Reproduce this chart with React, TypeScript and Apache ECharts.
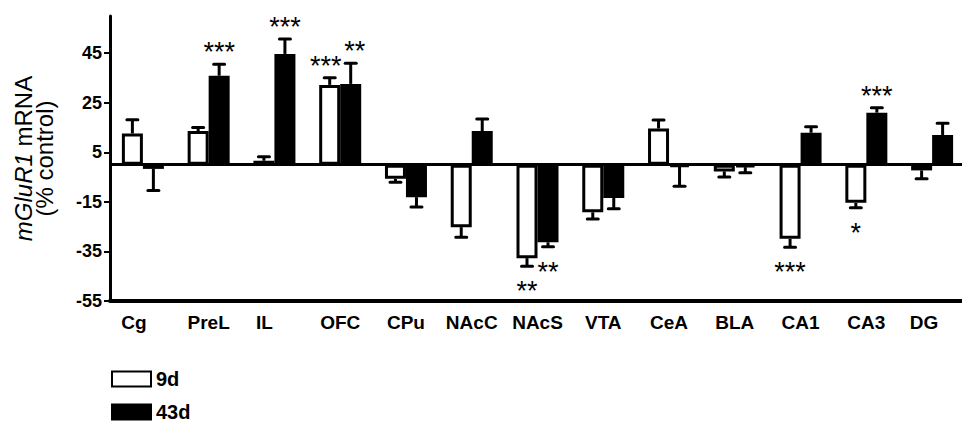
import React, { useEffect, useRef } from "react";
import * as echarts from "echarts";

const categories = ["Cg", "PreL", "IL", "OFC", "CPu", "NAcC", "NAcS", "VTA", "CeA", "BLA", "CA1", "CA3", "DG"];
const seriesNames = ["9d", "43d"];
const values9d = [12.6, 13.6, 1.6, 32.2, -5.7, -25.2, -37.7, -19.2, 14.6, -2.7, -29.9, -15.4, -2.3];
const err9d = [5.5, 1.4, 1.6, 2.9, 1.4, 4.1, 3.3, 2.7, 3.4, 2.3, 3.4, 2.0, 3.4];
const values43d = [-1.7, 35.9, 44.7, 32.6, -13.1, 13.6, -31.3, -13.4, -0.9, -1.0, 12.9, 21.0, 12.0];
const err43d = [8.7, 4.6, 6.0, 8.3, 4.0, 4.8, 1.8, 4.4, 7.8, 2.3, 2.4, 2.0, 4.7];
const stars9d = ["", "", "", "***", "", "", "**", "", "", "", "***", "*", ""];
const stars43d = ["", "***", "***", "**", "", "", "**", "", "", "", "", "***", ""];
const yTicks = [-55, -35, -15, 5, 25, 45];
const yMin = -55;
const yMax = 60;

// label horizontal shift (px, negative = left) per category
const labelShift: Record<string, number> = { Cg: -9, IL: -10, DG: -8 };
// star horizontal nudge (px) per category index
const starNudge: Record<number, number> = { 3: 4 };

const FONT = "Arial, 'Liberation Sans', sans-serif";
const BAR_W = 21;

function errSeries(vals: number[], errs: number[], stars: string[], offset: number, nudgeSign: number) {
  return {
    type: "custom",
    silent: true,
    clip: false,
    z: 5,
    encode: { x: 0, y: 1 },
    data: vals.map((v, i) => [i, v, errs[i]]),
    renderItem: (params: any, api: any) => {
      const idx = api.value(0);
      const v = api.value(1);
      const e = api.value(2);
      const star = stars[idx];
      const sign = v >= 0 ? 1 : -1;
      const base = api.coord([idx, v]);
      const tip = api.coord([idx, v + sign * e]);
      const x = base[0] + offset;
      const children: any[] = [
        {
          type: "line",
          shape: { x1: x, y1: base[1], x2: x, y2: tip[1] },
          style: { stroke: "#000", lineWidth: 3 },
        },
        {
          type: "rect",
          shape: { x: x - 7, y: tip[1] - 1.5, width: 14, height: 3, r: 1.5 },
          style: { fill: "#000" },
        },
      ];
      if (star) {
        children.push({
          type: "text",
          x: x + (starNudge[idx] || 0) * nudgeSign,
          y: sign > 0 ? tip[1] - 12 : tip[1] + 25,
          style: {
            text: star,
            fontSize: 27,
            fontFamily: FONT,
            fill: "#000",
            align: "center",
            verticalAlign: "middle",
          },
        });
      }
      return { type: "group", children };
    },
  };
}

export default function App() {
  const ref = useRef<HTMLDivElement>(null);
  useEffect(() => {
    if (!ref.current) return;
    const chart = echarts.init(ref.current, null, { renderer: "svg" });
    const option: any = {
      animation: false,
      backgroundColor: "#fff",
      grid: { left: 110, top: 16, height: 285, width: 855, containLabel: false, outerBoundsMode: "none" },
      legend: {
        data: seriesNames,
        orient: "vertical",
        left: 111,
        top: 369,
        width: 200,
        height: 80,
        padding: 0,
        icon: "rect",
        itemWidth: 39,
        itemHeight: 15,
        itemGap: 13,
        textStyle: { fontSize: 20, lineHeight: 18, fontWeight: "bold", fontFamily: FONT, color: "#000" },
      },
      xAxis: {
        type: "category",
        data: categories.map((c) => {
          const s = labelShift[c];
          if (!s) return c;
          return { value: c, textStyle: { padding: s < 0 ? [0, -2 * s, 0, 0] : [0, 0, 0, 2 * s] } };
        }),
        axisLine: { onZero: false, lineStyle: { color: "#000", width: 4 } },
        axisTick: { show: false },
        axisLabel: { fontSize: 19, fontWeight: "bold", fontFamily: FONT, color: "#000", margin: 12, interval: 0 },
        splitLine: { show: false },
      },
      yAxis: {
        type: "value",
        min: yMin,
        max: yMax,
        name: "{i|mGluR1} mRNA\n(% control)",
        nameLocation: "middle",
        nameRotate: 90,
        nameGap: 55,
        nameTextStyle: {
          fontSize: 24,
          fontFamily: FONT,
          color: "#000",
          lineHeight: 21,
          align: "center",
          rich: { i: { fontStyle: "italic", fontSize: 24, fontFamily: FONT, color: "#000", lineHeight: 21 } },
        },
        axisLine: { show: true, lineStyle: { color: "#000", width: 3 } },
        axisTick: { show: true, length: 6, lineStyle: { color: "#000", width: 2 }, customValues: yTicks },
        axisLabel: {
          fontSize: 18,
          fontWeight: "bold",
          fontFamily: FONT,
          color: "#000",
          margin: 8,
          customValues: yTicks,
          formatter: (v: number) => (yTicks.includes(v) ? String(v) : ""),
        },
        splitLine: { show: false },
      },
      series: [
        {
          name: seriesNames[0],
          type: "bar",
          data: values9d,
          barWidth: BAR_W,
          barGap: "0%",
          itemStyle: { color: "#fff", borderColor: "#000", borderWidth: 3 },
          markLine: {
            silent: true,
            symbol: "none",
            label: { show: false },
            lineStyle: { color: "#000", width: 3, type: "solid" },
            data: [{ yAxis: 0 }],
          },
        },
        {
          name: seriesNames[1],
          type: "bar",
          data: values43d,
          barWidth: BAR_W,
          barGap: "0%",
          itemStyle: { color: "#000", borderColor: "#000", borderWidth: 3 },
        },
        errSeries(values9d, err9d, stars9d, -BAR_W / 2, -1),
        errSeries(values43d, err43d, stars43d, BAR_W / 2, 1),
      ],
    };
    chart.setOption(option);
    return () => chart.dispose();
  }, []);
  return (
    <div
      ref={ref}
      style={{ position: "fixed", left: 0, top: 0, width: 962, height: 423, background: "#fff" }}
    />
  );
}
